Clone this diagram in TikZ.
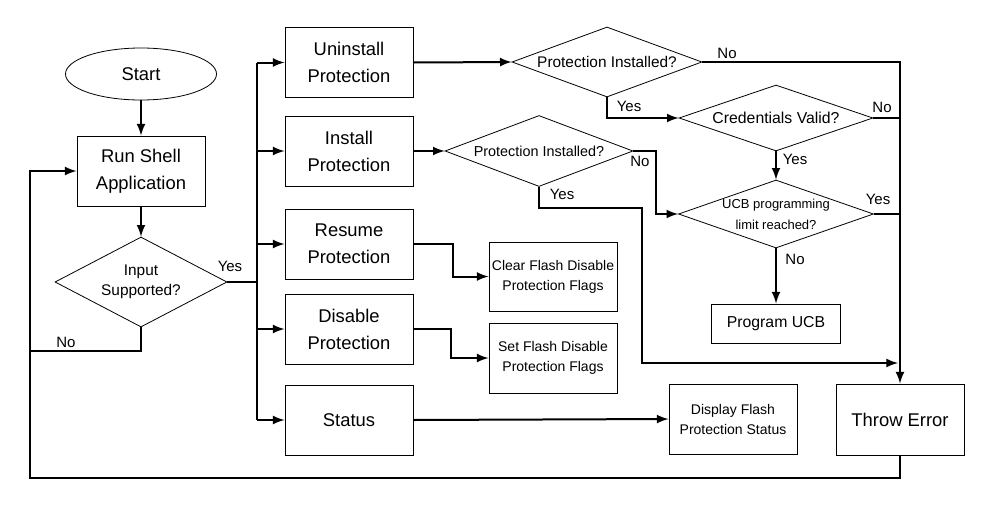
\documentclass[tikz,border=0pt]{standalone}
\usepackage{fontspec}
\setmainfont{Liberation Sans}
\usetikzlibrary{arrows,shapes.geometric}

\begin{document}
\begin{tikzpicture}[x=0.5pt, y=-0.5pt, >=latex]
    \tikzstyle{terminal} = [ellipse, draw, line width=0.4pt, minimum width=75.5pt, minimum height=26pt, font=\fontsize{9.2}{13.5}\selectfont]
    \tikzstyle{process} = [rectangle, draw, line width=0.5pt, minimum width=64pt, minimum height=35pt, align=center, font=\fontsize{9.2}{13.5}\selectfont]
    \tikzstyle{action} = [rectangle, draw, line width=0.5pt, inner sep=1pt, minimum width=64pt, minimum height=35pt, align=center, font=\fontsize{7}{10}\selectfont]
    \tikzstyle{decision} = [diamond, draw, line width=0.4pt, inner sep=-10pt, aspect=2.5, align=center, font=\fontsize{7.7}{10}\selectfont]
    \tikzstyle{line} = [line width=1pt]
    \tikzstyle{arrow} = [line, ->]
    \tikzstyle{answer} = [inner sep=0pt, font=\fontsize{7.5}{9}\selectfont]

    \useasboundingbox (0,0) rectangle (991,509);

    % Shell entry
    \node [terminal] (start) at (141,74) {Start};
    \node [process] (shell) at (141,171) {Run Shell\\Application};
    \node [decision, minimum width=86pt, minimum height=45pt] (input) at (141,282) {Input\\Supported?};

    % Commands
    \node [process] (uninstall) at (349,62.5) {Uninstall\\Protection};
    \node [process] (install) at (349,151) {Install\\Protection};
    \node [process] (resume) at (349,244) {Resume\\Protection};
    \node [process] (disable) at (349,329) {Disable\\Protection};
    \node [process] (status) at (349,420) {Status};

    % Checks
    \node [decision, minimum width=95pt, minimum height=35pt] (installed) at (607,62) {Protection Installed?};
    \node [decision, minimum width=94pt, minimum height=35.5pt, font=\fontsize{7.2}{10}\selectfont] (installedB) at (539,151) {Protection Installed?};
    \node [decision, minimum width=97pt, minimum height=33pt, font=\fontsize{7.9}{10}\selectfont] (credentials) at (776,118) {Credentials Valid?};
    \node [decision, minimum width=97.5pt, minimum height=34pt, font=\fontsize{6.5}{10.5}\selectfont] (limit) at (776,214) {UCB programming\\limit reached?};

    % Results
    \node [action, minimum height=34.5pt] (clear) at (553,276.5) {Clear Flash Disable\\Protection Flags};
    \node [action] (setflags) at (553,358) {Set Flash Disable\\Protection Flags};
    \node [action] (display) at (733,419) {Display Flash\\Protection Status};
    \node [action, minimum width=64.5pt, minimum height=19.5pt, font=\fontsize{7.9}{10}\selectfont] (program) at (776,323.5) {Program UCB};
    \node [process, minimum height=35.5pt] (error) at (900,419.5) {Throw Error};

    % Helper points
    \coordinate (busTop) at (257,62.5);
    \coordinate (busBottom) at (257,420);
    \coordinate (loopNo) at (30,351);
    \coordinate (loopBack) at (30,478);
    \coordinate (errJoin) at (898,363);

    % Main flow
    \draw [arrow] (start.south) -- (shell.north);
    \draw [arrow] (shell.south) -- (input.north);
    \draw [line] (input.south) |- (loopNo);
    \draw [line] (input.east) -- (input.east -| busTop);
    \draw [line] (busTop) -- (busBottom);
    \foreach \cmd in {uninstall,install,resume,disable,status}
        \draw [arrow] (\cmd.west -| busTop) -- (\cmd.west);

    % Uninstall path
    \draw [arrow] (uninstall.east) -- (installed.west);
    \draw [arrow] (installed.east) -| (error.north);
    \draw [arrow] (installed.south) |- (credentials.west);
    \draw [line] (credentials.east) -- (credentials.east -| error.north);
    \draw [arrow] (credentials.south) -- (limit.north);
    \draw [line] (limit.east) -- (limit.east -| error.north);
    \draw [arrow] (limit.south) -- (program.north);

    % Install path
    \draw [arrow] (install.east) -- (installedB.west);
    \draw [arrow] (installedB.east) -- ++(23,0) |- (limit.west);
    \draw [arrow] (installedB.south) -- ++(0,21) -- ++(103,0) |- (errJoin);

    % Other commands
    \draw [arrow] (resume.east) -- ++(39,0) |- (clear.west);
    \draw [arrow] (disable.east) -- ++(37,0) |- (setflags.west);
    \draw [arrow] (status.east) -- (display.west);

    % Back to the shell
    \draw [arrow] (error.south) |- (loopBack) |- (shell.west);

    % Answers
    \node [answer] (inYes) at (230,266) {Yes};
    \node [answer] (inNo) at (66,342) {No};
    \node [answer] (instNo) at (727,53) {No};
    \node [answer] (instYes) at (629,106) {Yes};
    \node [answer] (instBNo) at (640,161) {No};
    \node [answer] (instBYes) at (562,194) {Yes};
    \node [answer] (credNo) at (882,107) {No};
    \node [answer] (credYes) at (795,159) {Yes};
    \node [answer] (limYes) at (878,199) {Yes};
    \node [answer] (limNo) at (795,259) {No};

\end{tikzpicture}
\end{document}
